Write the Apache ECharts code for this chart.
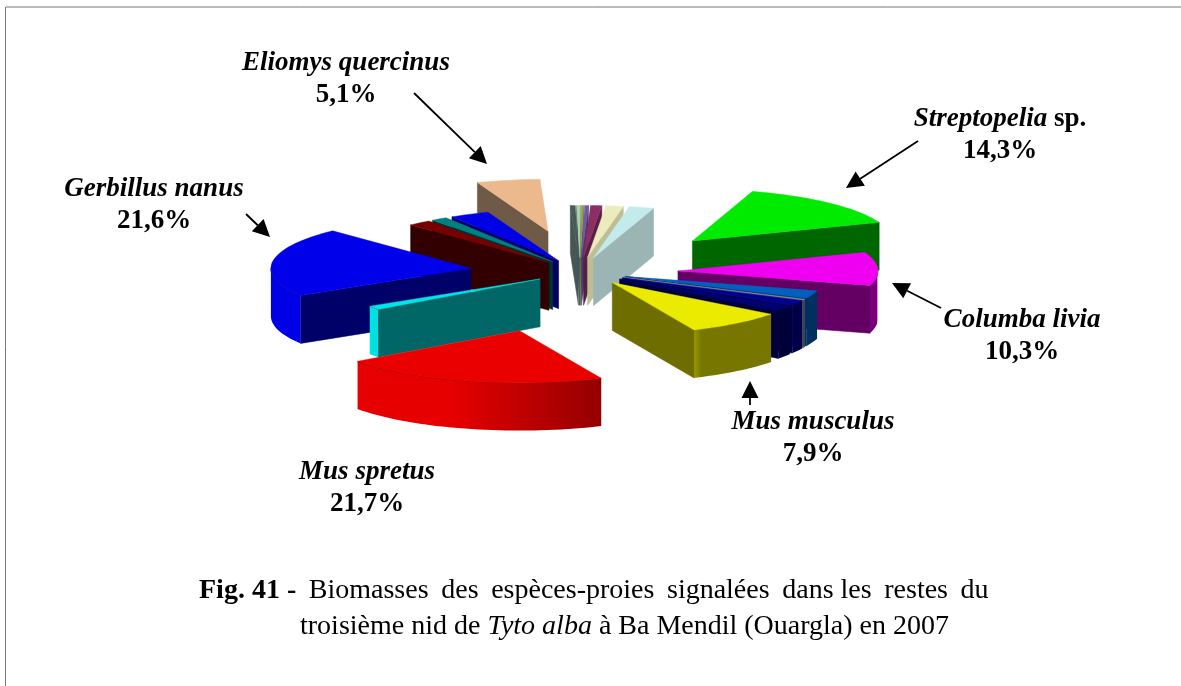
<!DOCTYPE html>
<html>
<head>
<meta charset="utf-8">
<title>Fig. 41</title>
<script src="https://cdn.jsdelivr.net/npm/echarts@6/dist/echarts.min.js"></script>
<style>
  html, body { margin: 0; padding: 0; background: #fff; }
  #chart { width: 1181px; height: 686px; }
</style>
</head>
<body>
<div id="chart"></div>
<script>
// clockwise from the green slice, % biomass (unlabelled ones)
const biomass = [14.3, 10.3, 2.4, 0.3, 1.6, 1.6, 7.9, 21.7, 1.2, 21.6, 1.9, 1.3, 3.2, 5.1, 0.4, 0.3, 0.2, 0.3, 0.9, 1.4, 2.0]
// how far each slice is pulled out, in pie radii
const explode = [0.82, 0.49, 0.24, 0.24, 0.24, 0.24, 0.26, 1.17, 0.24, 0.55, 0.24, 0.24, 0.24, 0.8, 0.28, 0.28, 0.28, 0.28, 0.28, 0.28, 0.28]
const topColors = [
  '#00eb00', '#f000f0', '#0060c0', '#8a8aa0', '#000090', '#000070', '#ebeb00', '#eb0000', '#00e6e6',
  '#0000eb', '#780000', '#008080', '#0000e6', '#ebb98c', '#465a5a', '#aad2aa', '#969650', '#6e5aa0', '#8c2d64', '#ebebbe', '#c3ebeb',
]
const wallColors = [
  '#006600', '#640064', '#002d5a', '#46466a', '#00003c', '#00003c', '#6e6e00', '#960000', '#006666',
  '#000069', '#320000', '#003232', '#000064', '#6e5a46', '#465555', '#3c5a50', '#5a5a32', '#463c6e', '#5a1e46', '#bebe96', '#9bb4b4',
]

const startAngle = 17.5
const thickness = 0.92

const pt = (a, r) => [r * Math.sin(a * Math.PI / 180), r * Math.cos(a * Math.PI / 180)]

const total = biomass.reduce((s, x) => s + x, 0)
let cum = 0
const rows = biomass.map((v, i) => {
  const a0 = startAngle + cum / total * 360
  cum += v
  return [i, a0, startAngle + cum / total * 360, explode[i]]
})
// back slices first
rows.sort((a, b) => pt((b[1] + b[2]) / 2, b[3])[1] - pt((a[1] + a[2]) / 2, a[3])[1])

const shade = (hex, k) => {
  const n = parseInt(hex.slice(1), 16)
  const ch = [n >> 16, (n >> 8) & 255, n & 255]
  const out = k <= 1 ? ch.map((c) => c * k) : ch.map((c) => c + (255 - c) * (k - 1))
  return 'rgb(' + out.map(Math.round).join(',') + ')'
}
const arcLight = (t) => {
  if (t >= 200) return 0.98
  if (t >= 155) return 0.62 + (t - 155) / 45 * 0.36
  if (t >= 95) return 0.5
  return 1.45
}

const renderSlice = (params, api) => {
  const i = api.value(0)
  const a0 = api.value(1)
  const a1 = api.value(2)
  const off = pt((a0 + a1) / 2, api.value(3))
  const at = (a, r, down) => {
    const p = pt(a, r)
    return api.coord([off[0] + p[0], off[1] + p[1] - (down ? thickness : 0)])
  }
  const top = topColors[i]
  const wall = wallColors[i]
  const children = []
  const sn = (a) => Math.sin(a * Math.PI / 180)
  const face = (a) => {
    children.push({
      type: 'polygon',
      shape: { points: [at(0, 0, false), at(a, 1, false), at(a, 1, true), at(0, 0, true)] },
      style: { fill: wall, stroke: wall, lineWidth: 0.5 },
    })
  }
  if (sn(a0) < 0) face(a0)
  if (sn(a1) > 0) face(a1)
  // outer rim, only the near half of the circle can be seen
  const from = Math.max(a0, 90)
  const to = Math.min(a1, 270)
  if (from < to) {
    const upper = []
    const lower = []
    const stops = []
    const xa = at(from, 1, false)[0]
    const xb = at(to, 1, false)[0]
    for (let t = from; ; t += 2) {
      const u = Math.min(t, to)
      upper.push(at(u, 1, false))
      lower.unshift(at(u, 1, true))
      stops.push({ offset: (at(u, 1, false)[0] - xa) / (xb - xa), color: shade(top, arcLight(u)) })
      if (u >= to) break
    }
    children.push({
      type: 'polygon',
      shape: { points: upper.concat(lower) },
      style: { fill: new echarts.graphic.LinearGradient(xa, 0, xb, 0, stops, true) },
    })
    children.push({ type: 'polyline', shape: { points: upper }, style: { fill: 'none', stroke: shade(top, 0.4), lineWidth: 0.8 } })
  }
  const topFace = [at(0, 0, false)]
  for (let t = a0; t < a1; t += 2) topFace.push(at(t, 1, false))
  topFace.push(at(a1, 1, false))
  children.push({ type: 'polygon', shape: { points: topFace }, style: { fill: top, stroke: top, lineWidth: 0.4 } })
  return { type: 'group', children }
}

const serif = '"Liberation Serif", "Times New Roman", serif'
const richLabel = (x, y, name, pct) => ({
  type: 'text',
  x,
  y,
  style: {
    text: name + '\n{v|' + pct + '}',
    align: 'center',
    verticalAlign: 'middle',
    fontFamily: serif,
    fontSize: 27,
    fontWeight: 'bold',
    fontStyle: 'italic',
    lineHeight: 32,
    fill: '#000',
    rich: {
      v: { fontFamily: serif, fontSize: 27, fontWeight: 'bold', fontStyle: 'normal', lineHeight: 32 },
      n: { fontFamily: serif, fontSize: 27, fontWeight: 'bold', fontStyle: 'normal', lineHeight: 32 },
    },
  },
})
const arrow = (x0, y0, x1, y1) => {
  const len = Math.hypot(x1 - x0, y1 - y0)
  const ux = (x1 - x0) / len
  const uy = (y1 - y0) / len
  const bx = x1 - ux * 17
  const by = y1 - uy * 17
  return {
    type: 'group',
    children: [
      { type: 'line', shape: { x1: x0, y1: y0, x2: bx, y2: by }, style: { stroke: '#000', lineWidth: 1.8 } },
      {
        type: 'polygon',
        shape: { points: [[x1, y1], [bx - uy * 8.5, by + ux * 8.5], [bx + uy * 8.5, by - ux * 8.5]] },
        style: { fill: '#000' },
      },
    ],
  }
}

const chart = echarts.init(document.getElementById('chart'))
chart.setOption({
  animation: false,
  backgroundColor: '#fff',
  // 1 x unit = one pie radius (200px), 1 y unit = the squashed radius (52px)
  grid: { left: 0, top: 0, width: 1181, height: 686 },
  xAxis: { type: 'value', min: -2.9, max: 3.005, show: false },
  yAxis: { type: 'value', min: -7.962, max: 5.231, show: false },
  series: [{ type: 'custom', coordinateSystem: 'cartesian2d', data: rows, renderItem: renderSlice, silent: true, clip: false }],
  graphic: [
    { type: 'line', shape: { x1: 6, y1: 7, x2: 1181, y2: 7 }, style: { stroke: '#777', lineWidth: 1 } },
    { type: 'line', shape: { x1: 5.5, y1: 7, x2: 5.5, y2: 686 }, style: { stroke: '#777', lineWidth: 1 } },
    richLabel(346, 79, 'Eliomys quercinus', '5,1%'),
    richLabel(154, 205, 'Gerbillus nanus', '21,6%'),
    richLabel(1000, 135, 'Streptopelia {n|sp.}', '14,3%'),
    richLabel(1022, 336, 'Columba livia', '10,3%'),
    richLabel(813, 438, 'Mus musculus', '7,9%'),
    richLabel(367, 488, 'Mus spretus', '21,7%'),
    arrow(414, 93, 487, 164),
    arrow(246, 214, 270, 237),
    arrow(918, 141, 846, 188),
    arrow(941, 308, 892, 283),
    arrow(750, 405, 750, 381),
    {
      type: 'text',
      x: 199,
      y: 591,
      style: {
        text: '{b|Fig. 41 -} \u2009Biomasses \u2009des \u2009espèces-proies \u2009signalées \u2009dans les \u2009restes \u2009du',
        verticalAlign: 'middle',
        fontFamily: serif,
        fontSize: 28,
        fill: '#000',
        rich: { b: { fontFamily: serif, fontSize: 28, fontWeight: 'bold' } },
      },
    },
    {
      type: 'text',
      x: 300,
      y: 627,
      style: {
        text: 'troisième nid de {i|Tyto alba} à Ba Mendil (Ouargla) en 2007',
        verticalAlign: 'middle',
        fontFamily: serif,
        fontSize: 28,
        fill: '#000',
        rich: { i: { fontFamily: serif, fontSize: 28, fontStyle: 'italic' } },
      },
    },
  ],
})
</script>
</body>
</html>
